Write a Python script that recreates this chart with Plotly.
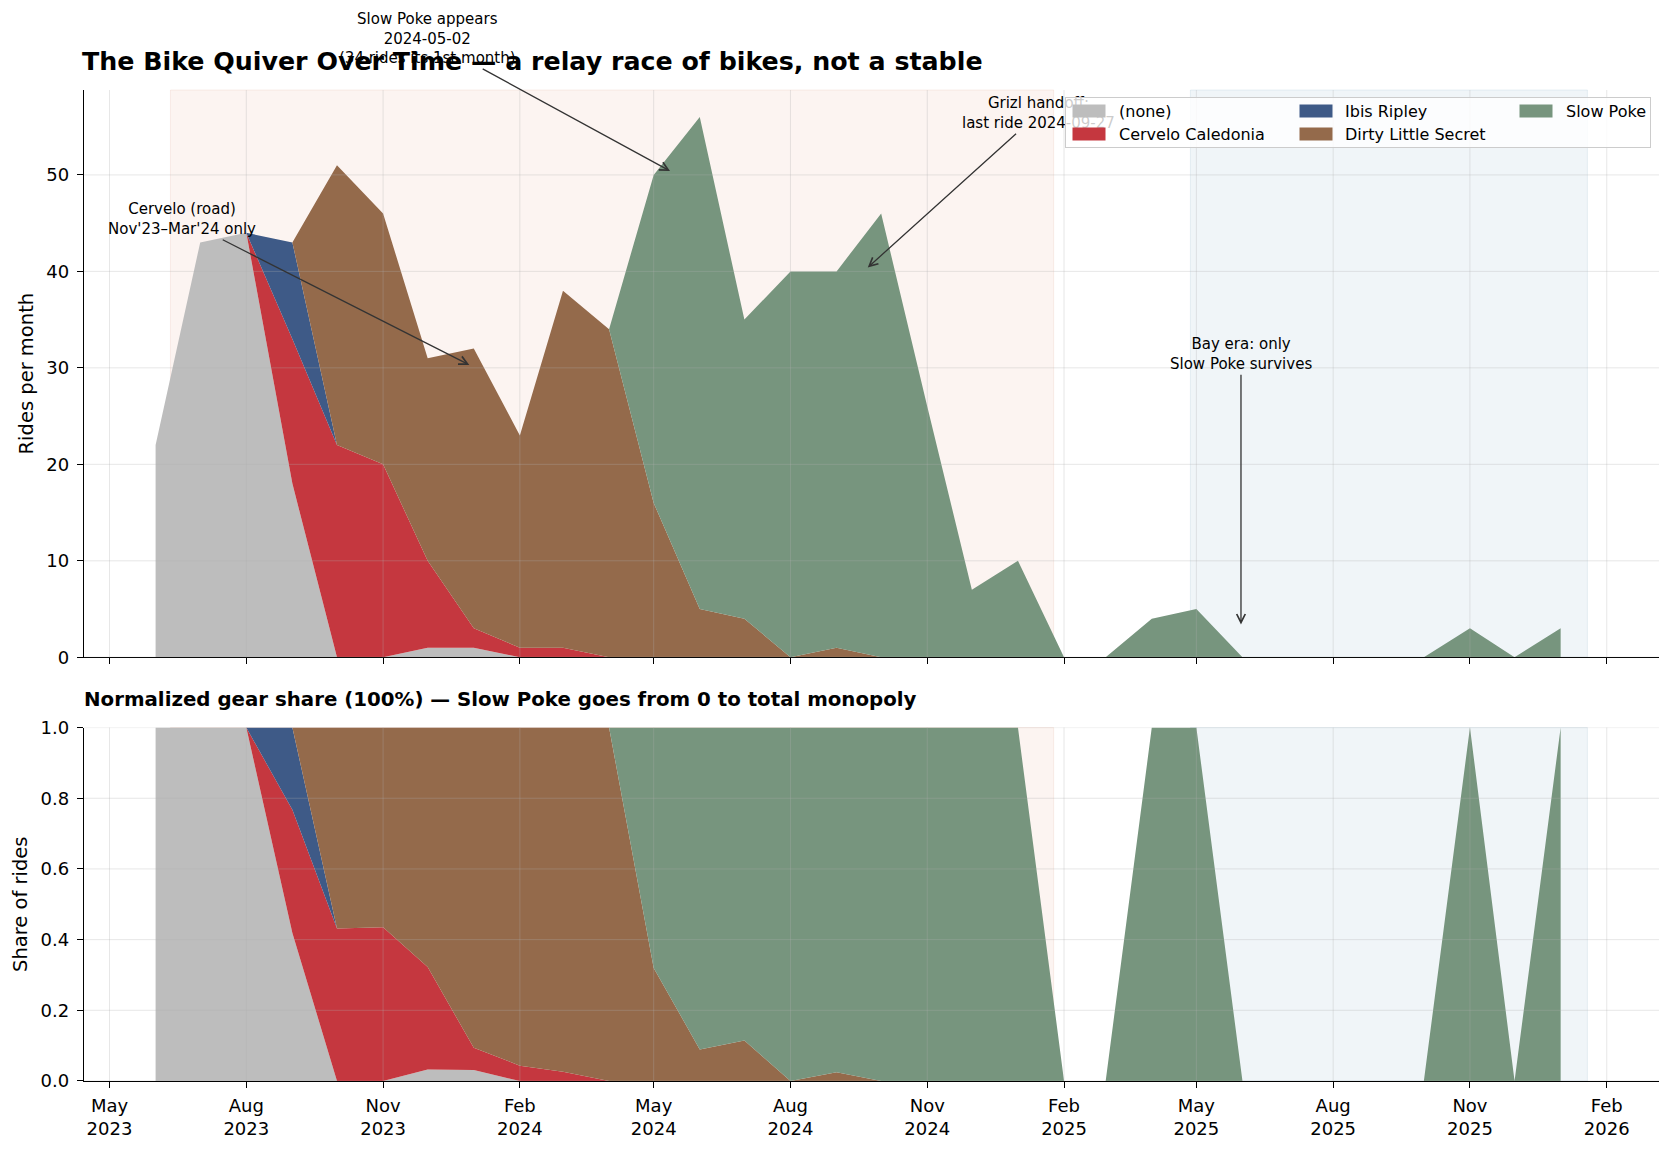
import pandas as pd
import plotly.graph_objects as go
from plotly.subplots import make_subplots

# ---------------- data ----------------
months = ['2023-06-01', '2023-07-01', '2023-08-01', '2023-09-01', '2023-10-01', '2023-11-01',
          '2023-12-01', '2024-01-01', '2024-02-01', '2024-03-01', '2024-04-01', '2024-05-01',
          '2024-06-01', '2024-07-01', '2024-08-01', '2024-09-01', '2024-10-01', '2024-11-01',
          '2024-12-01', '2025-01-01', '2025-02-01', '2025-03-01', '2025-04-01', '2025-05-01',
          '2025-06-01', '2025-07-01', '2025-08-01', '2025-09-01', '2025-10-01', '2025-11-01',
          '2025-12-01', '2026-01-01']

bike_names = ['(none)', 'Cervelo Caledonia', 'Ibis Ripley', 'Dirty Little Secret', 'Slow Poke']
bike_colors = ['#bdbdbd', '#c5373f', '#3e5a87', '#946a4b', '#77957e']

rides_none = [22, 43, 44, 18, 0, 0, 1, 1, 0, 0, 0, 0, 0, 0, 0, 0,
              0, 0, 0, 0, 0, 0, 0, 0, 0, 0, 0, 0, 0, 0, 0, 0]
rides_cervelo = [0, 0, 0, 15, 22, 20, 9, 2, 1, 1, 0, 0, 0, 0, 0, 0,
                 0, 0, 0, 0, 0, 0, 0, 0, 0, 0, 0, 0, 0, 0, 0, 0]
rides_ibis = [0, 0, 0, 10, 0, 0, 0, 0, 0, 0, 0, 0, 0, 0, 0, 0,
              0, 0, 0, 0, 0, 0, 0, 0, 0, 0, 0, 0, 0, 0, 0, 0]
rides_dls = [0, 0, 0, 0, 29, 26, 21, 29, 22, 37, 34, 16, 5, 4, 0, 1,
             0, 0, 0, 0, 0, 0, 0, 0, 0, 0, 0, 0, 0, 0, 0, 0]
rides_slowpoke = [0, 0, 0, 0, 0, 0, 0, 0, 0, 0, 0, 34, 51, 31, 40, 39,
                  46, 26, 7, 10, 0, 0, 4, 5, 0, 0, 0, 0, 0, 3, 0, 3]

series = [rides_none, rides_cervelo, rides_ibis, rides_dls, rides_slowpoke]

# eras (background spans)
sf_era = ('2023-06-11', '2025-01-25')
bay_era = ('2025-04-27', '2026-01-19')

# ticks
x_tick_dates = ['2023-05-01', '2023-08-01', '2023-11-01', '2024-02-01', '2024-05-01', '2024-08-01',
                '2024-11-01', '2025-02-01', '2025-05-01', '2025-08-01', '2025-11-01', '2026-02-01']
x_tick_text = ['May<br>2023', 'Aug<br>2023', 'Nov<br>2023', 'Feb<br>2024', 'May<br>2024', 'Aug<br>2024',
               'Nov<br>2024', 'Feb<br>2025', 'May<br>2025', 'Aug<br>2025', 'Nov<br>2025', 'Feb<br>2026']
top_y_ticks = [0, 10, 20, 30, 40, 50]
bottom_y_ticks = [0.0, 0.2, 0.4, 0.6, 0.8, 1.0]

# ---------------- derived ----------------
totals = [sum(v) for v in zip(*series)]
shares = [[(v / t if t > 0 else 0.0) for v, t in zip(s, totals)] for s in series]

x_start = pd.Timestamp(months[0])
x_end = pd.Timestamp(bay_era[1])
span = x_end - x_start
x_range = [x_start - 0.05 * span, x_end + 0.05 * span]
top_ymax = max(totals) * 1.05

# ---------------- figure ----------------
W, H = 1672, 1151
ML, MR, MT, MB = 84, 13, 90, 67
PW, PH = W - ML - MR, H - MT - MB


def px_x(px):
    return (px - ML) / PW


def px_y(py):
    return (H - MB - py) / PH


fig = make_subplots(rows=2, cols=1, shared_xaxes=True)

for name, vals, col in zip(bike_names, series, bike_colors):
    fig.add_trace(go.Scatter(x=months, y=vals, name=name, stackgroup='top', mode='lines',
                             line=dict(width=0, color=col), fillcolor=col, showlegend=False),
                  row=1, col=1)
for name, vals, col in zip(bike_names, shares, bike_colors):
    fig.add_trace(go.Scatter(x=months, y=vals, name=name, stackgroup='bottom', mode='lines',
                             line=dict(width=0, color=col), fillcolor=col, showlegend=False),
                  row=2, col=1)

FONT = 'DejaVu Sans'
axis_common = dict(showline=True, linecolor='black', linewidth=1.3, ticks='outside',
                   ticklen=6, tickwidth=1.2, tickcolor='black', showgrid=False, zeroline=False,
                   tickfont=dict(family=FONT, size=18, color='black'))

fig.update_layout(
    width=W, height=H,
    margin=dict(l=ML, r=MR, t=MT, b=MB),
    paper_bgcolor='white', plot_bgcolor='white',
    font=dict(family=FONT, color='black'),
    title=dict(text='<b>The Bike Quiver Over Time — a relay race of bikes, not a stable</b>',
               x=(ML - 2) / W, xref='container', xanchor='left', y=1 - 61 / H, yref='container',
               yanchor='middle', font=dict(family=FONT, size=25.3, color='black')),
    showlegend=False,
)

fig.update_xaxes(**axis_common, type='date', range=x_range, tickvals=x_tick_dates,
                 ticktext=x_tick_text, ticklabelstandoff=2)
fig.update_xaxes(showticklabels=False, row=1, col=1)
fig.update_yaxes(**axis_common, ticklabelstandoff=4)
fig.update_layout(
    yaxis=dict(domain=[px_y(659), 1.0], range=[0, top_ymax], tickvals=top_y_ticks,
               title=dict(text='Rides per month', standoff=7,
                          font=dict(family=FONT, size=19.5, color='black'))),
    yaxis2=dict(domain=[0.0, px_y(729.5)], range=[0, 1], tickvals=bottom_y_ticks, tickformat='.1f',
                title=dict(text='Share of rides', standoff=7,
                           font=dict(family=FONT, size=19.5, color='black'))),
)

# background era spans
for xr, yr in (('x', 'y domain'), ('x2', 'y2 domain')):
    fig.add_shape(type='rect', xref=xr, yref=yr, x0=sf_era[0], x1=sf_era[1], y0=0, y1=1,
                  fillcolor='#fcf4f1', line=dict(width=1, color='rgba(235,190,175,0.25)'), layer='below')
    fig.add_shape(type='rect', xref=xr, yref=yr, x0=bay_era[0], x1=bay_era[1], y0=0, y1=1,
                  fillcolor='#f0f5f8', line=dict(width=1, color='rgba(170,200,215,0.25)'), layer='below')

# grid lines (drawn above fills, like the reference)
GRID = 'rgba(176,176,176,0.3)'
for xv in x_tick_dates:
    for xr, yr in (('x', 'y domain'), ('x2', 'y2 domain')):
        fig.add_shape(type='line', xref=xr, yref=yr, x0=xv, x1=xv, y0=0, y1=1,
                      line=dict(color=GRID, width=1), layer='above')
for yv in top_y_ticks:
    fig.add_shape(type='line', xref='x domain', yref='y', x0=0, x1=1, y0=yv, y1=yv,
                  line=dict(color=GRID, width=1), layer='above')
for yv in bottom_y_ticks:
    fig.add_shape(type='line', xref='x2 domain', yref='y2', x0=0, x1=1, y0=yv, y1=yv,
                  line=dict(color=GRID, width=1), layer='above')

# annotations with arrows
ann_font = dict(family=FONT, size=15, color='black')
arrow = dict(showarrow=True, arrowhead=5, arrowsize=1.3, arrowwidth=1.3, arrowcolor='#333333',
             xref='x', yref='y', axref='x', ayref='y', font=ann_font, align='center',
             xanchor='center', yanchor='middle')
fig.add_annotation(text="Cervelo (road)<br>Nov'23–Mar'24 only", x='2023-12-29', y=30.3,
                   ax='2023-06-19', ay=45.4, **arrow)
fig.add_annotation(text='Slow Poke appears<br>2024-05-02<br>(34 rides its 1st month)',
                   x='2024-05-12', y=50.4, ax='2023-12-01', ay=64.1, **arrow)
fig.add_annotation(text='Grizl handoff:<br>last ride 2024-09-27', x='2024-09-22', y=40.4,
                   ax='2025-01-15', ay=56.4, **arrow)
fig.add_annotation(text='Bay era: only<br>Slow Poke survives', x='2025-05-31', y=3.4,
                   ax='2025-05-31', ay=31.4, **arrow)

# subplot title
fig.add_annotation(text='<b>Normalized gear share (100%) — Slow Poke goes from 0 to total monopoly</b>',
                   xref='paper', yref='paper', x=px_x(ML - 2), y=px_y(701.5), xanchor='left',
                   yanchor='middle', showarrow=False,
                   font=dict(family=FONT, size=19.8, color='black'))

# legend (box, swatches, labels)
box_l, box_r, box_t, box_b = 1065, 1651, 97.5, 148
fig.add_annotation(text=' ', xref='paper', yref='paper', x=px_x((box_l + box_r) / 2),
                   y=px_y((box_t + box_b) / 2), xanchor='center', yanchor='middle',
                   width=box_r - box_l - 2, height=box_b - box_t - 2, borderpad=0,
                   bgcolor='rgba(255,255,255,0.8)', bordercolor='#cccccc', borderwidth=1,
                   showarrow=False, font=dict(size=1))
col_swatch_x = [1072, 1298.5, 1519]
col_text_x = [1117, 1343, 1564]
row_y = [111.5, 134.5]
legend_slots = [(0, 0), (0, 1), (1, 0), (1, 1), (2, 0)]  # (column, row) for each bike
for name, col, (ci, ri) in zip(bike_names, bike_colors, legend_slots):
    fig.add_annotation(text=' ', xref='paper', yref='paper', x=px_x(col_swatch_x[ci]),
                       y=px_y(row_y[ri]), xanchor='left', yanchor='middle', width=32, height=12,
                       borderpad=0, bgcolor=col, showarrow=False, font=dict(size=1))
    fig.add_annotation(text=name, xref='paper', yref='paper', x=px_x(col_text_x[ci]),
                       y=px_y(row_y[ri]), xanchor='left', yanchor='middle', showarrow=False,
                       font=dict(family=FONT, size=16, color='black'))

fig.write_html('out.html')
